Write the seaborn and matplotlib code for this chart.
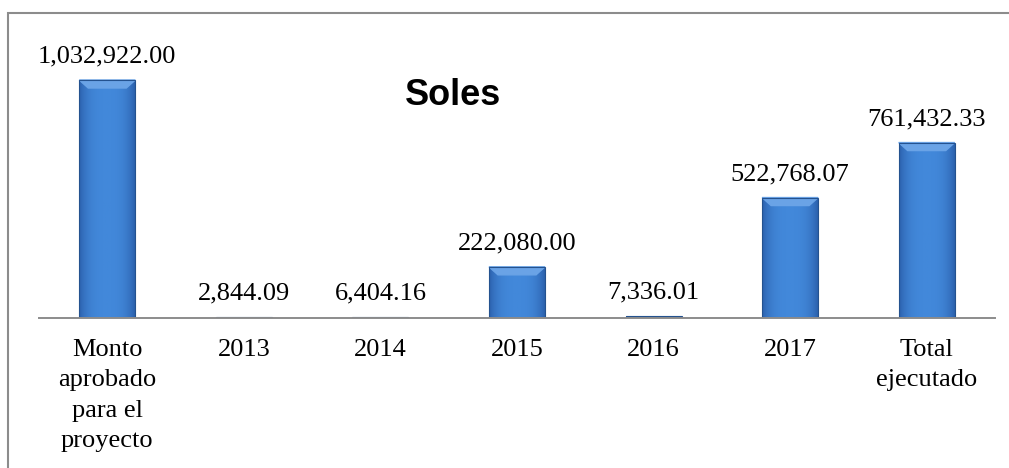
import numpy as np
import matplotlib
matplotlib.use("Agg")
import matplotlib.pyplot as plt
import matplotlib.patches as mpatches
import seaborn as sns

# datos
categorias = ["Monto\naprobado\npara el\nproyecto", "2013", "2014", "2015", "2016", "2017", "Total\nejecutado"]
montos = [1032922.00, 2844.09, 6404.16, 222080.00, 7336.01, 522768.07, 761432.33]

sns.set_style("white")
plt.rcParams['font.family'] = ['Liberation Serif', 'DejaVu Serif']
plt.rcParams['text.color'] = 'black'

fig = plt.figure(figsize=(10.09, 4.68), dpi=100)
ax = fig.add_axes([39 / 1009, 150 / 468, 956 / 1009, 277 / 468])

sns.barplot(x=categorias, y=montos, order=categorias, color="#3A78C8",
            width=0.41, edgecolor="#24528F", linewidth=0.8, saturation=1, ax=ax)

ymax = 1032922 * 277 / 238
px = ymax / 277  # altura de un pixel en unidades de datos

# degradado tipo bisel en cada barra
grad = np.linspace(0, 1, 64)
grad = 1 - (2 * np.abs(grad - 0.5)) ** 3
cmap = matplotlib.colors.LinearSegmentedColormap.from_list("bev", ["#2C62AE", "#4288DA"])
for p in ax.patches:
    x0, y0 = p.get_x(), p.get_y()
    w, h = p.get_width(), p.get_height()
    im = ax.imshow(grad[np.newaxis, :], extent=(x0, x0 + w, y0, y0 + h),
                   aspect="auto", cmap=cmap, zorder=p.get_zorder() + 0.1)
    im.set_clip_path(p)
    if h > 20 * px:
        top = mpatches.Polygon([[x0, y0 + h], [x0 + w, y0 + h],
                                [x0 + w * 0.84, y0 + h - 8 * px],
                                [x0 + w * 0.16, y0 + h - 8 * px]],
                               closed=True, color="#6AA3E6", zorder=p.get_zorder() + 0.2)
        ax.add_patch(top)
    p.set_zorder(p.get_zorder() + 0.3)
    p.set_facecolor("none")

ax.bar_label(ax.containers[0], labels=[f"{v:,.2f}" for v in montos],
             padding=9, fontsize=19, color="black")

ax.set_xlim(-0.5, len(categorias) - 0.5)
ax.set_ylim(0, ymax)
ax.set_yticks([])
ax.tick_params(axis="x", length=0, pad=15, labelsize=19, colors="black")
for lbl in ax.get_xticklabels():
    lbl.set_linespacing(1.5)
for s in ["top", "right", "left"]:
    ax.spines[s].set_visible(False)
ax.spines["bottom"].set_color("#8C8C8C")
ax.spines["bottom"].set_linewidth(1.4)
ax.patch.set_alpha(0)

fig.text(453 / 1009, (468 - 105) / 468, "Soles", ha="center", va="baseline",
         fontsize=26, fontweight="bold", color="black",
         family=["Liberation Sans", "DejaVu Sans"])

# marco del gráfico
fig.patches.append(mpatches.Rectangle((8 / 1009, -0.05), 1.0, (468 - 13) / 468 + 0.05,
                                      transform=fig.transFigure, fill=False,
                                      edgecolor="#8C8C8C", linewidth=1.5))

fig.savefig("out.png", dpi=100)
